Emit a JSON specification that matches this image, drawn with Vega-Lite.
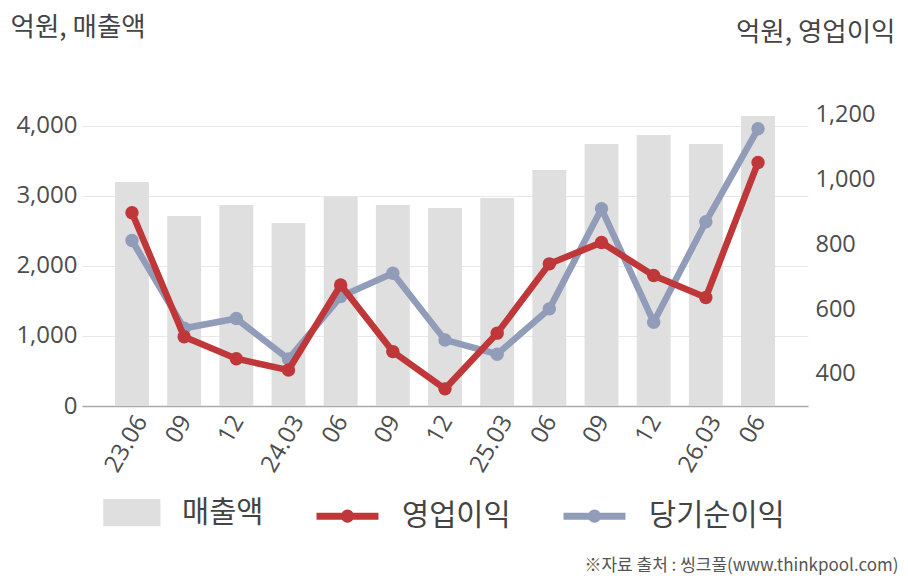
{
  "$schema": "https://vega.github.io/schema/vega-lite/v6.json",
  "autosize": "none",
  "padding": {"left": 82, "top": 100, "right": 100, "bottom": 174},
  "width": 726,
  "height": 306,
  "background": "#ffffff",
  "data": {
    "values": [
      {"q": "23.06", "sales": 3200, "op": 898, "net": 812},
      {"q": "23.09", "sales": 2714, "op": 515, "net": 541},
      {"q": "23.12", "sales": 2871, "op": 447, "net": 571},
      {"q": "24.03", "sales": 2614, "op": 412, "net": 446},
      {"q": "24.06", "sales": 2990, "op": 675, "net": 639},
      {"q": "24.09", "sales": 2871, "op": 469, "net": 711},
      {"q": "24.12", "sales": 2829, "op": 354, "net": 505},
      {"q": "25.03", "sales": 2971, "op": 526, "net": 461},
      {"q": "25.06", "sales": 3371, "op": 740, "net": 601},
      {"q": "25.09", "sales": 3743, "op": 806, "net": 910},
      {"q": "25.12", "sales": 3871, "op": 704, "net": 560},
      {"q": "26.03", "sales": 3743, "op": 636, "net": 870},
      {"q": "26.06", "sales": 4143, "op": 1053, "net": 1157}
    ]
  },
  "encoding": {
    "x": {
      "field": "q", "type": "ordinal", "sort": null,
      "scale": {"paddingInner": 0.35, "paddingOuter": 0.633},
      "axis": {
        "title": "※자료 출처 : 씽크풀(www.thinkpool.com)",
        "titleX": 816, "titleY": 159, "titleAlign": "right", "titleAnchor": null,
        "titleBaseline": "middle", "titleFontSize": 17, "titleFontWeight": "normal",
        "titleColor": "#555555", "titleFont": "Noto Sans CJK KR",
        "labelExpr": "indexof(datum.label, '.03') > 0 || datum.label == '23.06' ? datum.label : slice(datum.label, 3)",
        "labelAngle": -60, "labelAlign": "right", "labelBaseline": "middle",
        "labelFontSize": 24, "labelColor": "#4d4d4d", "labelFont": "Open Sans", "labelPadding": 11,
        "labelOffset": {"condition": {"test": "indexof(datum.value, '.03') > 0 || datum.value == '23.06'", "value": 10}, "value": 2},
        "ticks": false, "domainColor": "#aaaaaa", "domainWidth": 1.5, "grid": false
      }
    }
  },
  "layer": [
    {
      "mark": {"type": "bar", "color": "#dfdfdf"},
      "encoding": {
        "y": {
          "field": "sales", "type": "quantitative",
          "scale": {"domain": [0, 4371.4], "nice": false, "zero": false},
          "axis": {
            "values": [0, 1000, 2000, 3000, 4000], "format": ",d",
            "title": "억원, 매출액", "titleAngle": 0, "titleX": -72, "titleY": -73,
            "titleAlign": "left", "titleBaseline": "middle", "titleFontSize": 26.5,
            "titleFontWeight": "normal", "titleColor": "#444444", "titleFont": "Noto Sans CJK KR",
            "labelFontSize": 24, "labelColor": "#4d4d4d", "labelFont": "Open Sans", "labelPadding": 5,
            "domain": false, "ticks": false, "grid": true, "gridColor": "#e8e8e8"
          }
        },
        "color": {
          "datum": "매출액",
          "scale": {"domain": ["매출액", "영업이익", "당기순이익"], "range": ["#dfdfdf", "#c0373a", "#919cb8"]},
          "legend": {
            "title": null, "orient": "none", "legendX": 11, "legendY": 378,
            "direction": "horizontal", "padding": 0, "columnPadding": 38,
            "symbolSize": 3844, "symbolStrokeWidth": 7, "labelOffset": 20,
            "labelFontSize": 29.5, "labelColor": "#444444", "labelFont": "Noto Sans CJK KR",
            "encode": {
              "symbols": {
                "update": {
                  "shape": {"signal": "datum.value === '매출액' ? 'M-0.67,-0.33H0.95V0.33H-0.67Z' : 'M-1,0H1M-0.1,0A0.1,0.1 0 1,0 0.1,0A0.1,0.1 0 1,0 -0.1,0'"},
                  "fill": {"signal": "datum.value === '매출액' ? '#dfdfdf' : 'transparent'"},
                  "stroke": {"signal": "datum.value === '매출액' ? 'transparent' : datum.value === '영업이익' ? '#c0373a' : '#919cb8'"},
                  "strokeWidth": {"value": 7},
                  "opacity": {"value": 1}
                }
              }
            }
          }
        }
      }
    },
    {
      "encoding": {
        "y": {
          "type": "quantitative",
          "scale": {"domain": [301, 1246], "nice": false, "zero": false},
          "axis": {
            "orient": "right", "values": [400, 600, 800, 1000, 1200], "format": ",d",
            "title": "억원, 영업이익", "titleAngle": 0, "titleX": 87, "titleY": -68,
            "titleAlign": "right", "titleBaseline": "middle", "titleFontSize": 26.5,
            "titleFontWeight": "normal", "titleColor": "#444444", "titleFont": "Noto Sans CJK KR",
            "labelFontSize": 23.5, "labelColor": "#4d4d4d", "labelFont": "Open Sans", "labelPadding": 7,
            "domain": false, "ticks": false, "grid": false
          }
        }
      },
      "layer": [
        {
          "mark": {"type": "line", "strokeWidth": 6.5, "point": {"size": 180, "filled": true, "opacity": 1}},
          "encoding": {
            "y": {"field": "net", "type": "quantitative"},
            "color": {"datum": "당기순이익"}
          }
        },
        {
          "mark": {"type": "line", "strokeWidth": 6.5, "point": {"size": 180, "filled": true, "opacity": 1}},
          "encoding": {
            "y": {"field": "op", "type": "quantitative"},
            "color": {"datum": "영업이익"}
          }
        }
      ]
    }
  ],
  "resolve": {"scale": {"y": "independent"}},
  "config": {
    "view": {"stroke": null},
    "font": "Noto Sans CJK KR"
  }
}
